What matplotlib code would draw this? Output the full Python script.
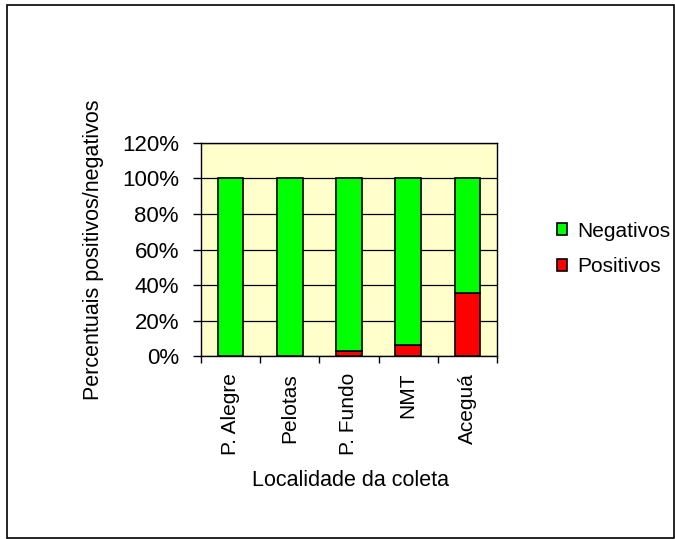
import numpy as np
import matplotlib.pyplot as plt
from matplotlib.patches import Rectangle
from matplotlib.ticker import FuncFormatter

plt.rcParams['font.family'] = ['Liberation Sans', 'DejaVu Sans']

# Dados
localidades = ['P. Alegre', 'Pelotas', 'P. Fundo', 'NMT', 'Aceguá']
positivos = [0, 0, 3, 6.5, 35.5]
negativos = [100 - p for p in positivos]

fig = plt.figure(figsize=(6.75, 5.39), dpi=100)
ax = fig.add_axes([0.298, 0.339, 0.438, 0.396])
ax.set_facecolor('#FFFFCC')

x = np.arange(len(localidades))
ax.bar(x, positivos, width=0.43, color='#FF0000', edgecolor='black', linewidth=1.2,
       label='Positivos', zorder=3)
ax.bar(x, negativos, width=0.43, bottom=positivos, color='#00FF00', edgecolor='black',
       linewidth=1.2, label='Negativos', zorder=3)

ax.set_xlim(-0.5, len(localidades) - 0.5)
ax.set_ylim(0, 120)
ax.set_yticks(np.arange(0, 121, 20))
ax.yaxis.set_major_formatter(FuncFormatter(lambda v, p: f'{int(v)}%'))
ax.grid(axis='y', color='black', linewidth=0.9, zorder=0)

ax.set_xticks(x)
ax.set_xticklabels(localidades, rotation=90, fontsize=15)
ax.tick_params(axis='x', length=0, pad=12)
ax.set_xticks(np.arange(-0.5, len(localidades)), minor=True)
ax.tick_params(axis='x', which='minor', length=5, width=1)
ax.tick_params(axis='y', labelsize=16, length=6, width=1, pad=10)
for s in ax.spines.values():
    s.set_linewidth(1)

# títulos dos eixos
fig.text(350 / 675, 1 - 481 / 539, 'Localidade da coleta', fontsize=15.5,
         ha='center', va='center')
fig.text(94 / 675, 1 - 250 / 539, 'Percentuais positivos/negativos', rotation=90,
         fontsize=15.5, ha='center', va='center')

handles, labels = ax.get_legend_handles_labels()
leg = fig.legend(handles[::-1], labels[::-1], loc='center left',
                 bbox_to_anchor=(557 / 675, 1 - 249 / 539), frameon=False, fontsize=15,
                 handlelength=0.5, handleheight=0.5, handletextpad=0.45,
                 labelspacing=0.8, borderpad=0, borderaxespad=0)

fig.patches.append(Rectangle((7 / 675, 1 / 539), 667 / 675, 533 / 539,
                             transform=fig.transFigure, fill=False,
                             edgecolor='black', linewidth=1.2))

fig.savefig('out.png', dpi=100)
